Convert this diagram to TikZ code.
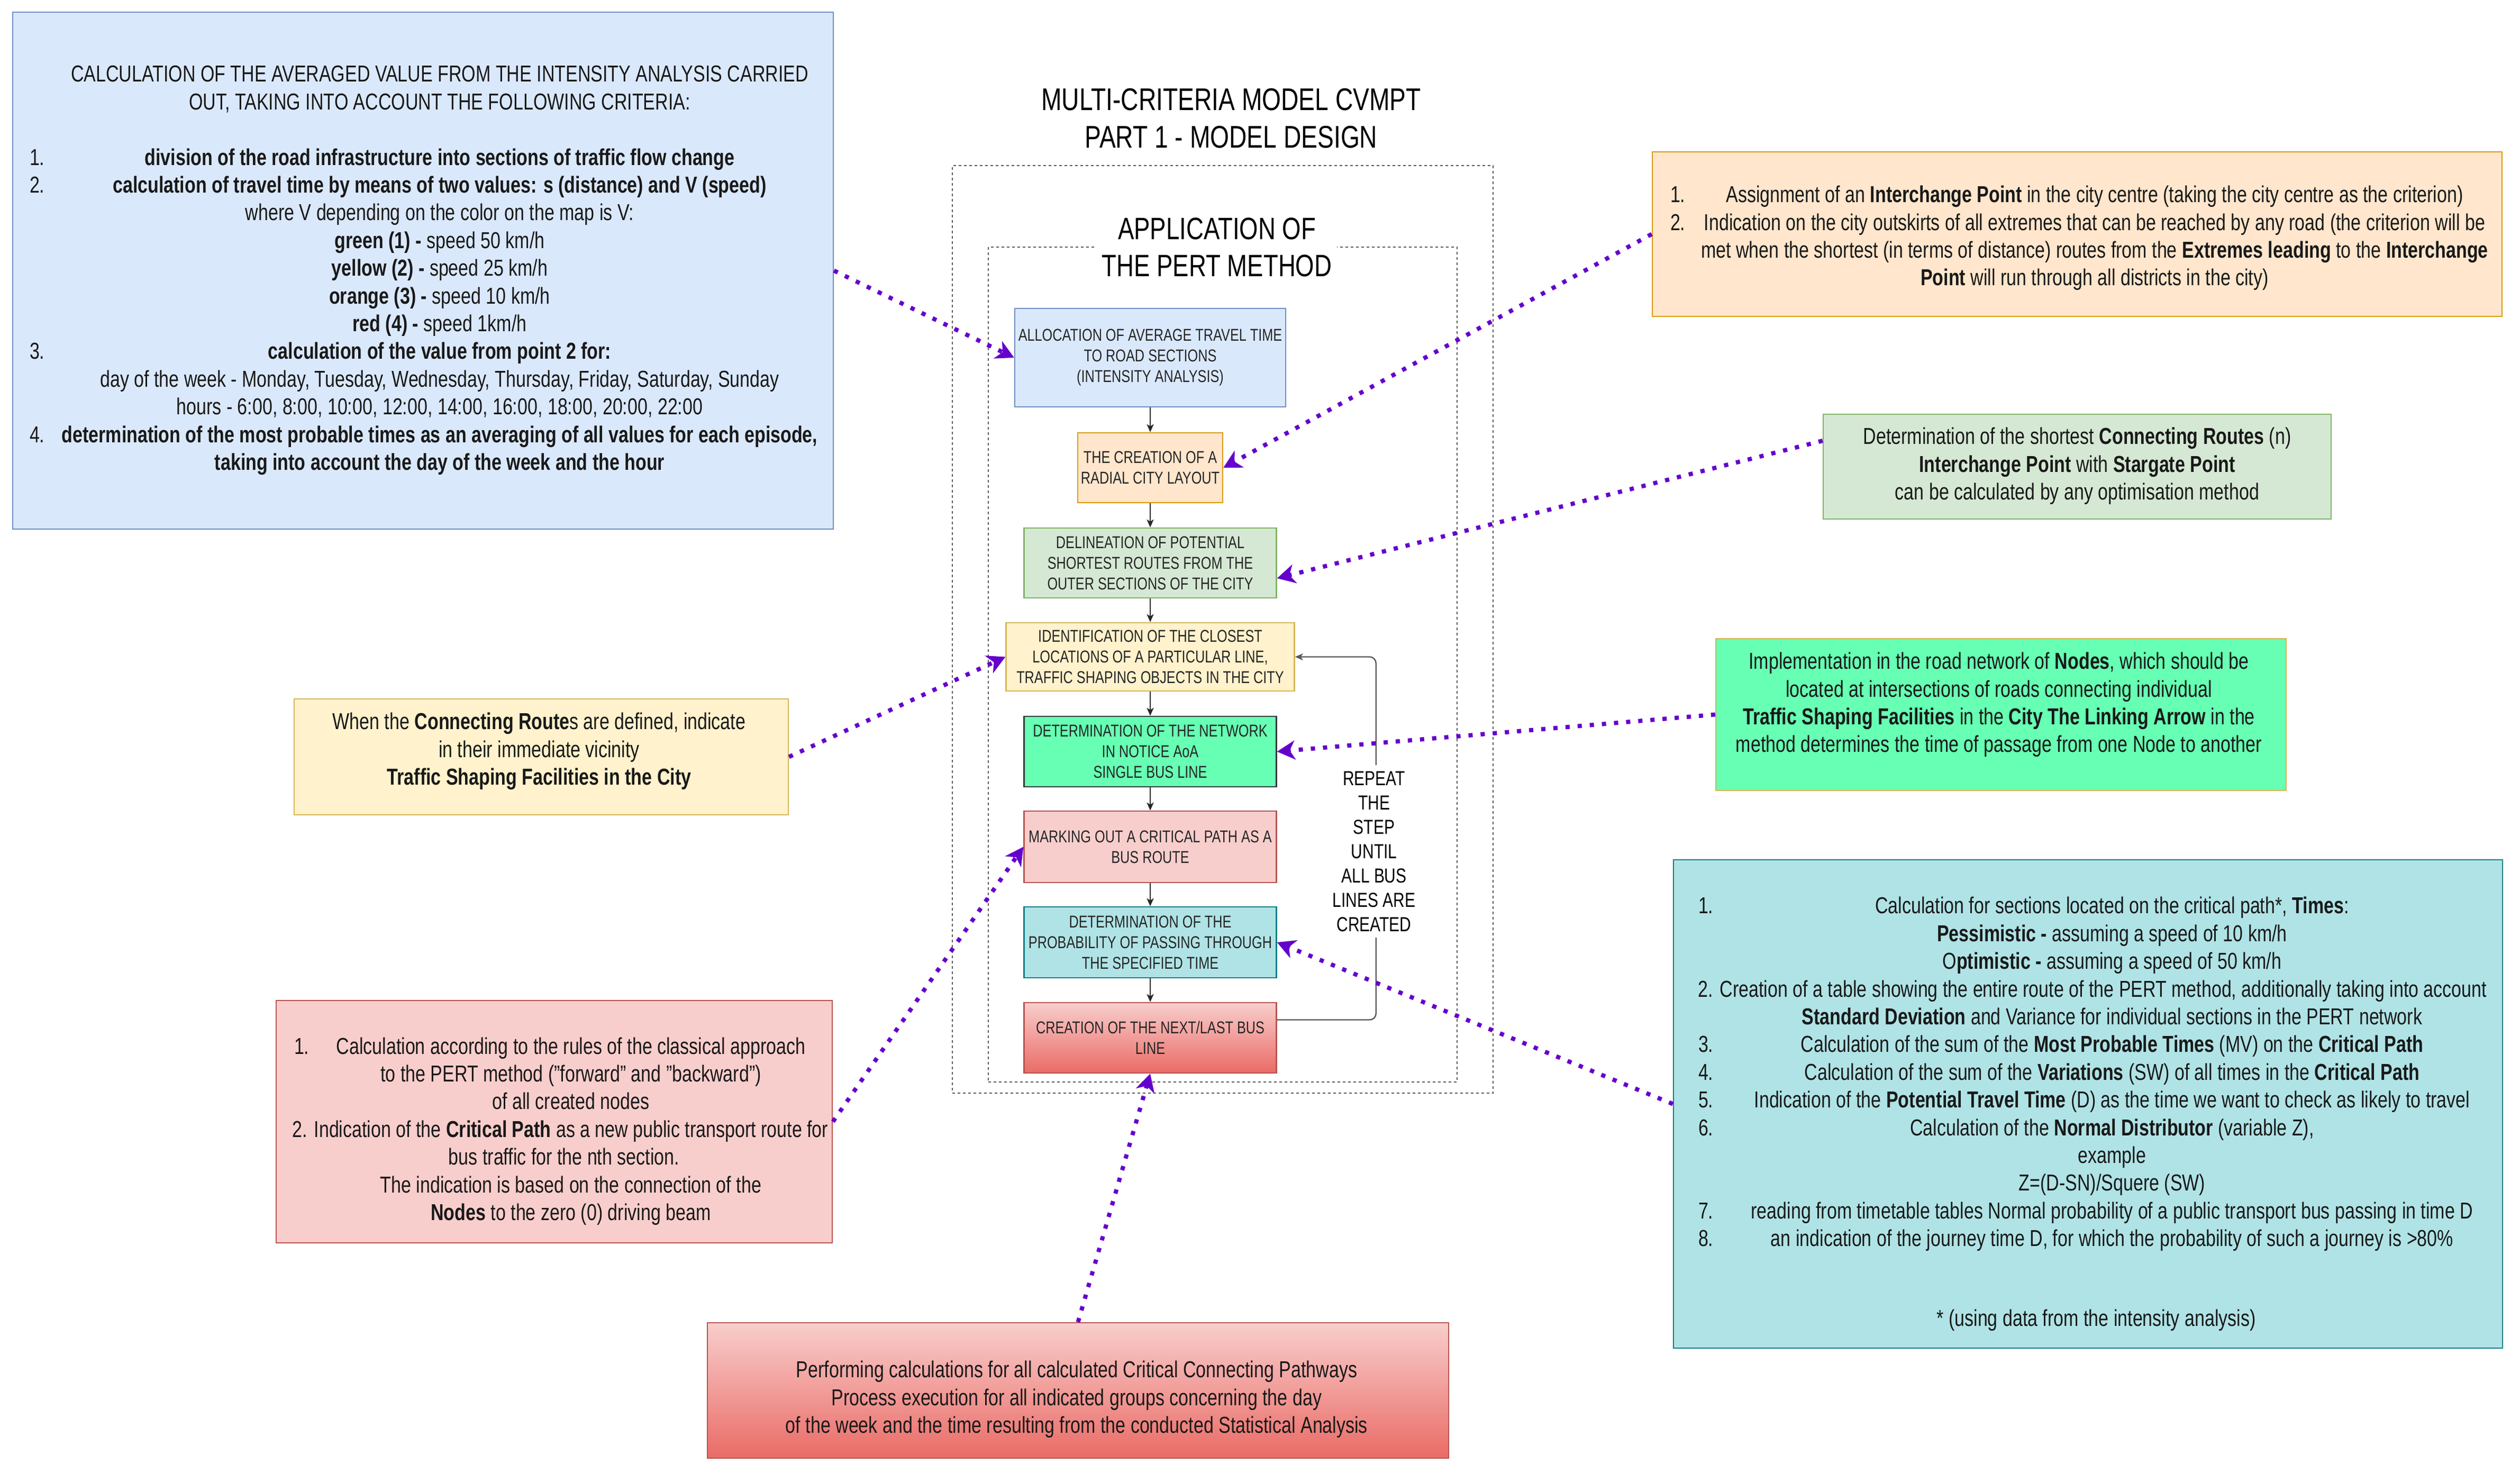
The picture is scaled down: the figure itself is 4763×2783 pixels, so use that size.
\documentclass[tikz,border=0pt]{standalone}
\usepackage{fontspec}
\setmainfont{Liberation Sans}[FakeStretch=0.78]
\usetikzlibrary{arrows.meta,calc}
\definecolor{bluef}{HTML}{DAE8FC}\definecolor{blued}{HTML}{6C8EBF}
\definecolor{orf}{HTML}{FFE6CC}\definecolor{ord}{HTML}{D79B00}
\definecolor{grf}{HTML}{D5E8D4}\definecolor{grd}{HTML}{82B366}
\definecolor{yef}{HTML}{FFF2CC}\definecolor{yed}{HTML}{D6B656}
\definecolor{pkf}{HTML}{F8CECC}\definecolor{pkd}{HTML}{B85450}
\definecolor{tef}{HTML}{B0E3E6}\definecolor{ted}{HTML}{0E8088}
\definecolor{mint}{HTML}{66FFB3}\definecolor{mintd}{HTML}{36393D}
\definecolor{redg}{HTML}{EA6B66}
\definecolor{purp}{HTML}{6600CC}
\newcommand\NL[3]{\hbox to #1{\rlap{#2}\hss#3\hss}}
\newcommand\SL[3]{\hbox to #1{\hss#3\hss\hskip#2}}
\tikzset{
  px/.style 2 args={minimum width=#1*0.25pt, minimum height=#2*0.25pt},
  cbox/.style={inner sep=0pt, line width=0.6pt, rectangle},
  flowbox/.style={cbox, align=center, font=\fontsize{8.1}{9.75}\selectfont, text=black!85},
  sidetxt/.style={align=center, inner sep=0pt, font=\fontsize{10.9}{13.1}\selectfont, text=black!90},
  farrow/.style={-{Stealth[length=3.75pt,width=3.25pt,inset=1pt]}, line width=0.6pt, draw=black!85},
  parrow/.style={-{Stealth[length=8.5pt,width=9pt,inset=2.5pt]}, line width=2pt, draw=purp, dash pattern=on 2pt off 3.75pt},
  container/.style={cbox, draw=black!65, line width=0.5pt, dash pattern=on 1.25pt off 1.25pt},
  loopline/.style={-{Stealth[length=3.75pt,width=3.25pt,inset=1pt]}, line width=0.6pt, draw=black!65, rounded corners=3pt},
}
\begin{document}
\begin{tikzpicture}[x=0.25pt,y=-0.25pt]
\useasboundingbox (0,0) rectangle (4763,2783);
\fill[white] (0,0) rectangle (4763,2783);

% containers
\node[container, px={1022}{1753}] (outer) at (2311,1189.5) {};
\node[container, px={886}{1578}] (inner) at (2311,1256) {};
\node[align=center, fill=white, inner xsep=2.5pt, inner ysep=1pt, font=\fontsize{14.6}{17.5}\selectfont] (pert) at (2300,467) {APPLICATION OF\\THE PERT METHOD};
\node[align=center, inner sep=0pt, font=\fontsize{14.8}{17.75}\selectfont] (title) at (2327,224) {MULTI-CRITERIA MODEL CVMPT\\PART 1 - MODEL DESIGN};

% flow boxes
\node[flowbox, px={512}{186}, fill=bluef, draw=blued] (b1) at (2174,676) {ALLOCATION OF AVERAGE TRAVEL TIME\\TO ROAD SECTIONS\\(INTENSITY ANALYSIS)};
\node[flowbox, px={274}{132}, fill=orf, draw=ord] (b2) at (2174,884) {THE CREATION OF A\\RADIAL CITY LAYOUT};
\node[flowbox, px={477}{132}, fill=grf, draw=grd] (b3) at (2174,1064) {DELINEATION OF POTENTIAL\\SHORTEST ROUTES FROM THE\\OUTER SECTIONS OF THE CITY};
\node[flowbox, px={545}{129}, fill=yef, draw=yed] (b4) at (2174,1241.5) {IDENTIFICATION OF THE CLOSEST\\LOCATIONS OF A PARTICULAR LINE,\\TRAFFIC SHAPING OBJECTS IN THE CITY};
\node[flowbox, px={477}{133}, fill=mint, draw=mintd] (b5) at (2174,1420.5) {DETERMINATION OF THE NETWORK\\IN NOTICE AoA\\SINGLE BUS LINE};
\node[flowbox, px={477}{135}, fill=pkf, draw=pkd] (b6) at (2174,1600.5) {MARKING OUT A CRITICAL PATH AS A\\BUS ROUTE};
\node[flowbox, px={477}{134}, fill=tef, draw=ted] (b7) at (2174,1781) {DETERMINATION OF THE\\PROBABILITY OF PASSING THROUGH\\THE SPECIFIED TIME};
\node[flowbox, px={477}{133}, top color=pkf, bottom color=redg, draw=pkd] (b8) at (2174,1961.5) {CREATION OF THE NEXT/LAST BUS\\LINE};

\draw[farrow] (b1) -- (b2);
\draw[farrow] (b2) -- (b3);
\draw[farrow] (b3) -- (b4);
\draw[farrow] (b4) -- (b5);
\draw[farrow] (b5) -- (b6);
\draw[farrow] (b6) -- (b7);
\draw[farrow] (b7) -- (b8);

% loop
\draw[loopline] ($(b8.east)+(0,-34)$) -| ($(b4.east)+(153,0)$) -- (b4.east);
\node[align=center, fill=white, inner xsep=1pt, inner ysep=3pt, font=\fontsize{9.6}{11.5}\selectfont] (rep) at (2597,1609) {REPEAT\\THE\\STEP\\UNTIL\\ALL BUS\\LINES ARE\\CREATED};

% side boxes
\node[cbox, px={1551}{977}, fill=bluef, draw=blued] (big) at (799.5,511.5) {};
\node[sidetxt] (bigtxt) at (831,511) {%
CALCULATION OF THE AVERAGED VALUE FROM THE INTENSITY ANALYSIS CARRIED\\
OUT, TAKING INTO ACCOUNT THE FOLLOWING CRITERIA:\\
\mbox{}\\
\NL{387.5pt}{1.}{\textbf{division of the road infrastructure into sections of traffic flow change}}\\
\NL{387.5pt}{2.}{\textbf{calculation of travel time by means of two values: s (distance) and V (speed)}}\\
where V depending on the color on the map is V:\\
\textbf{green (1) -} speed 50 km/h\\
\textbf{yellow (2) -} speed 25 km/h\\
\textbf{orange (3) -} speed 10 km/h\\
\textbf{red (4) -} speed 1km/h\\
\NL{387.5pt}{3.}{\textbf{calculation of the value from point 2 for:}}\\
day of the week - Monday, Tuesday, Wednesday, Thursday, Friday, Saturday, Sunday\\
hours - 6:00, 8:00, 10:00, 12:00, 14:00, 16:00, 18:00, 20:00, 22:00\\
\NL{387.5pt}{4.}{\textbf{determination of the most probable times as an averaging of all values for each episode,}}\\
\textbf{taking into account the day of the week and the hour}};

\node[cbox, px={1606}{311}, fill=orf, draw=ord] (oside) at (3926,442.5) {};
\node[sidetxt] (osidetxt) at (3959,450) {%
\NL{401pt}{1.}{Assignment of an \textbf{Interchange Point} in the city centre (taking the city centre as the criterion)}\\
\NL{401pt}{2.}{Indication on the city outskirts of all extremes that can be reached by any road (the criterion will be}\\
met when the shortest (in terms of distance) routes from the \textbf{Extremes leading} to the \textbf{Interchange}\\
\textbf{Point} will run through all districts in the city)};

\node[cbox, px={960}{198}, fill=grf, draw=grd] (gside) at (3926,882) {};
\node[sidetxt] (gsidetxt) at (3926,881) {%
Determination of the shortest \textbf{Connecting Routes} (n)\\
\textbf{Interchange Point} with \textbf{Stargate Point}\\
can be calculated by any optimisation method};

\node[cbox, px={1078}{287}, fill=mint, draw=yed] (mside) at (3782,1350.5) {};
\node[sidetxt] (msidetxt) at (3778,1332) {%
Implementation in the road network of \textbf{Nodes}, which should be\\
located at intersections of roads connecting individual\\
\textbf{Traffic Shaping Facilities} in the \textbf{City The Linking Arrow} in the\\
method determines the time of passage from one Node to another};

\node[cbox, px={1567}{923}, fill=tef, draw=ted] (tside) at (3946.5,2086.5) {};
\node[sidetxt] (tsidetxt) at (3992,2030) {%
\NL{391pt}{1.}{Calculation for sections located on the critical path*, \textbf{Times}:}\\
\textbf{Pessimistic -} assuming a speed of 10 km/h\\
O\textbf{ptimistic -} assuming a speed of 50 km/h\\
\SL{391pt}{18.5pt}{2. Creation of a table showing the entire route of the PERT method, additionally taking into account}\\
\textbf{Standard Deviation} and Variance for individual sections in the PERT network\\
\NL{391pt}{3.}{Calculation of the sum of the \textbf{Most Probable Times} (MV) on the \textbf{Critical Path}}\\
\NL{391pt}{4.}{Calculation of the sum of the \textbf{Variations} (SW) of all times in the \textbf{Critical Path}}\\
\NL{391pt}{5.}{Indication of the \textbf{Potential Travel Time} (D) as the time we want to check as likely to travel}\\
\NL{391pt}{6.}{Calculation of the \textbf{Normal Distributor} (variable Z),}\\
example\\
Z=(D-SN)/Squere (SW)\\
\NL{391pt}{7.}{reading from timetable tables Normal probability of a public transport bus passing in time D}\\
\NL{391pt}{8.}{an indication of the journey time D, for which the probability of such a journey is >80\%}};
\node[sidetxt] (tnote) at (3962,2495) {* (using data from the intensity analysis)};

\node[cbox, px={934}{219}, fill=yef, draw=yed] (yside) at (1023,1430.5) {};
\node[sidetxt] (ysidetxt) at (1019,1420) {%
When the \textbf{Connecting Route}s are defined, indicate\\
in their immediate vicinity\\
\textbf{Traffic Shaping Facilities in the City}};

\node[cbox, px={1051}{458}, fill=pkf, draw=pkd] (rside) at (1047.5,2120) {};
\node[sidetxt] (rsidetxt) at (1079,2138) {%
\NL{261.5pt}{1.}{Calculation according to the rules of the classical approach}\\
to the PERT method ("forward" and "backward")\\
of all created nodes\\
\SL{261.5pt}{10pt}{2. Indication of the \textbf{Critical Path} as a new public transport route for}\\
\SL{261.5pt}{6.5pt}{bus traffic for the nth section.}\\
The indication is based on the connection of the\\
\textbf{Nodes} to the zero (0) driving beam};

\node[cbox, px={1401}{256}, top color=pkf, bottom color=redg, draw=pkd] (bot) at (2037.5,2628) {};
\node[sidetxt] (bottxt) at (2035,2645) {%
Performing calculations for all calculated Critical Connecting Pathways\\
Process execution for all indicated groups concerning the day\\
of the week and the time resulting from the conducted Statistical Analysis};

% purple dotted connectors
\draw[parrow] (big.east) -- (b1.west);
\draw[parrow] (oside.west) -- (b2.east);
\draw[parrow] ($(gside.west)+(0,-49)$) -- ($(b3.east)+(0,29)$);
\draw[parrow] (yside.east) -- (b4.west);
\draw[parrow] (mside.west) -- (b5.east);
\draw[parrow] (rside.east) -- (b6.west);
\draw[parrow] (tside.west) -- (b7.east);
\draw[parrow] (bot.north) -- (b8.south);
\end{tikzpicture}
\end{document}
